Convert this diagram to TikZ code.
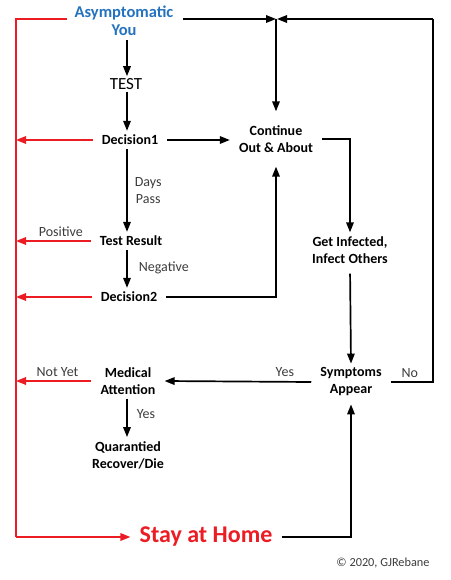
\documentclass[tikz,border=0pt]{standalone}
\usepackage{fontspec}
\setmainfont{Carlito}
\usetikzlibrary{arrows.meta,calc}
\definecolor{ablue}{RGB}{36,114,190}
\definecolor{ared}{RGB}{236,28,36}
\definecolor{lbl}{RGB}{60,60,60}
\begin{document}
\begin{tikzpicture}[x=1pt,y=-1pt,
  box/.style={font=\fontsize{14}{17}\selectfont\bfseries, align=center, inner xsep=9pt, inner ysep=4pt},
  ln/.style={line width=1.7pt},
  arr/.style={ln, -{Triangle[length=10pt,width=7.5pt]}},
  rarr/.style={arr, color=ared},
  lab/.style={font=\fontsize{14}{17}\selectfont, text=lbl, inner sep=1pt}]
\useasboundingbox (0,0) rectangle (450,580);

% helper coordinates
\coordinate (colx) at (127,0);
\coordinate (redx) at (16,0);
\coordinate (TR) at (433,19);

% nodes
\node[box, text=ablue, font=\fontsize{16.5}{18}\selectfont\bfseries] (you) at (124,21) {Asymptomatic\\You};
\node[box, font=\fontsize{17}{18}\selectfont, inner ysep=2pt] (test) at (126,84) {TEST};
\node[box] (d1) at (130,140) {Decision1};
\node[box] (tr) at (131,241) {Test Result};
\node[box] (d2) at (129,297) {Decision2};
\node[box] (cont) at (276,139) {Continue\\Out \& About};
\node[box] (gi) at (350,250) {Get Infected,\\Infect Others};
\node[box] (sa) at (351,382) {Symptoms\\Appear};
\node[box] (ma) at (128,381) {Medical\\Attention};
\node[box] (qr) at (128,455) {Quarantied\\Recover/Die};
\node[box, text=ared, font=\fontsize{24}{26}\selectfont\bfseries] (home) at (206,537) {Stay at Home};
\node[font=\fontsize{12.3}{14}\selectfont, text=lbl] (copy) at (383,563) {© 2020, GJRebane};

\coordinate (J) at (cont.north |- TR);

% top connectors
\draw[arr] (you.east |- J) -- (J);
\draw[arr] (TR) -- ([xshift=1pt]J);
\draw[arr, shorten >=10pt] (J) -- (cont.north);
\draw[ln] (sa.east) -- (sa.east -| TR) node[lab, pos=0.45, above=3pt] (no) {No} -- (TR);

% left column
\draw[arr] (you.south -| colx) -- (test.north -| colx);
\draw[arr] (test.south -| colx) -- (d1.north -| colx);
\draw[arr] (d1.south -| colx) -- (tr.north -| colx)
  node[lab, midway, right=6pt, align=center] (days) {Days\\Pass};
\draw[arr] (tr.south -| colx) -- (d2.north -| colx)
  node[lab, midway, right=10pt, yshift=1pt] (neg) {Negative};
\draw[arr] (ma.south -| colx) -- (qr.north -| colx)
  node[lab, midway, right=8pt, yshift=4pt] (yes2) {Yes};

% to continue
\draw[arr] (d1.east) -- (cont.west |- d1.east);
\draw[arr, shorten >=10pt] (d2.east) -- (d2.east -| J) -- (cont.south -| J);

% right column
\draw[arr] (cont.east) -- (cont.east -| gi) -- (gi.north);
\draw[arr, shorten <=6pt] (gi.south) -- (sa.north);
\draw[arr] (sa.west) -- (ma.east) node[lab, pos=0.18, above=3pt] (yes1) {Yes};
\draw[arr, shorten >=4pt] (home.east) -- (home.east -| sa) -- (sa.south);

% red connectors
\draw[ln, ared] ([xshift=2pt]you.west |- TR) -- (redx |- TR) -- (redx |- home.west);
\draw[rarr] (redx |- home.west) -- (home.west);
\draw[rarr] (d1.west) -- (d1.west -| redx);
\draw[rarr] (tr.west) -- (tr.west -| redx) node[lab, pos=0.4, above=3pt] (pos) {Positive};
\draw[rarr] (d2.west) -- (d2.west -| redx);
\draw[rarr] (ma.west) -- (ma.west -| redx) node[lab, pos=0.45, above=3pt] (ny) {Not Yet};
\end{tikzpicture}
\end{document}
